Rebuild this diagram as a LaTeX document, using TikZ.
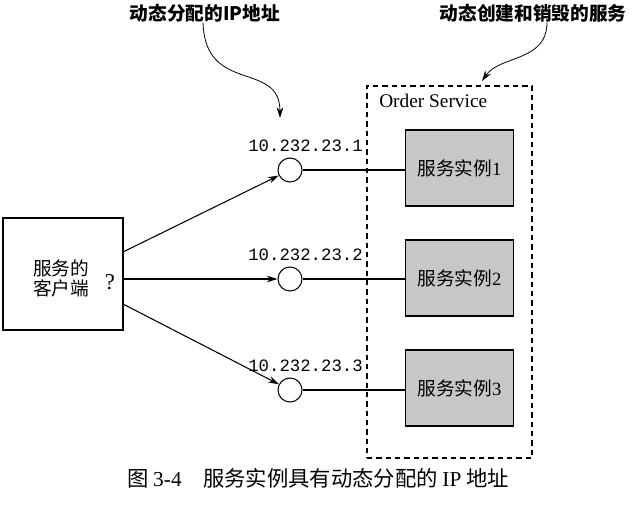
\documentclass[tikz,border=0pt]{standalone}
\usepackage{fontspec}
\setmainfont{Liberation Serif}
\setmonofont{Liberation Mono}
\newfontfamily\cjk{Noto Sans CJK SC}
\usepackage{tikz}
\usetikzlibrary{arrows.meta,positioning}

\begin{document}
\begin{tikzpicture}[
  x=0.75pt, y=-0.75pt,
  client/.style={draw, thick, minimum width=90pt, minimum height=84pt, inner sep=0pt},
  inst/.style={draw, thick, fill=black!22, minimum width=81pt, minimum height=57pt, font=\cjk\fontsize{14}{16}\selectfont},
  addr/.style={draw, thick, circle, fill=white, minimum size=18pt, inner sep=0pt},
  ip/.style={anchor=east, inner sep=0pt, font=\ttfamily\fontsize{13}{15}\selectfont},
  note/.style={inner sep=0pt, font=\cjk\bfseries\fontsize{14}{16}\selectfont},
  arr/.style={-{Stealth[length=8pt,width=5pt]}, thick},
  link/.style={thick}
]
  \useasboundingbox (0,0) rectangle (632,508);

  % service group
  \node[draw, thick, dashed, dash pattern=on 4pt off 3pt, minimum width=123.75pt, minimum height=279pt] (group) at (449.5,272) {};
  \node[anchor=north west, inner sep=0pt, font=\fontsize{14.5}{16}\selectfont] (grouplabel) at (379,94) {Order Service};

  % client
  \node[client] (client) at (63,274) {};
  \node[font=\cjk\fontsize{14}{16}\selectfont, align=center, inner sep=0pt] (clienttext) at (61,278) {服务的\\[-1pt]客户端};
  \node[font=\fontsize{17}{19}\selectfont, inner sep=0pt] (ask) at (110,282) {?};

  % instances
  \node[inst] (inst1) at (459.5,168) {服务实例{\rmfamily 1}};
  \node[inst] (inst2) at (459.5,278) {服务实例{\rmfamily 2}};
  \node[inst] (inst3) at (459.5,388) {服务实例{\rmfamily 3}};

  % addresses
  \node[addr] (ip1) at (290,170) {};
  \node[addr] (ip2) at (290,279) {};
  \node[addr] (ip3) at (290,390) {};
  \node[ip] (ipl1) at (363,146) {10.232.23.1};
  \node[ip] (ipl2) at (363,255) {10.232.23.2};
  \node[ip] (ipl3) at (363,366) {10.232.23.3};

  \draw[link] (ip1) -- (inst1.west |- ip1);
  \draw[link] (ip2) -- (inst2.west |- ip2);
  \draw[link] (ip3) -- (inst3.west |- ip3);

  \coordinate (c1) at (123,252);
  \coordinate (c2) at (123,279);
  \coordinate (c3) at (123,304);
  \draw[arr] (c1) -- (ip1);
  \draw[arr] (c2) -- (ip2);
  \draw[arr] (c3) -- (ip3);

  % annotations
  \node[note] (note1) at (205,13) {动态分配的IP地址};
  \node[note] (note2) at (533,13) {动态创建和销毁的服务};
  \coordinate (t1) at (280,118);
  \coordinate (t2) at (482,81);
  \draw[arr, semithick] (note1.south -| 203,0) .. controls (205,95) and (280,60) .. (t1);
  \draw[arr, semithick] (note2.south -| 547,0) .. controls (547,62) and (500,55) .. (t2);

  % caption
  \node[font=\cjk\fontsize{16}{18}\selectfont, inner sep=0pt] (caption) at (318,478) {图 {\rmfamily 3-4}\quad 服务实例具有动态分配的 {\rmfamily IP} 地址};
\end{tikzpicture}
\end{document}
